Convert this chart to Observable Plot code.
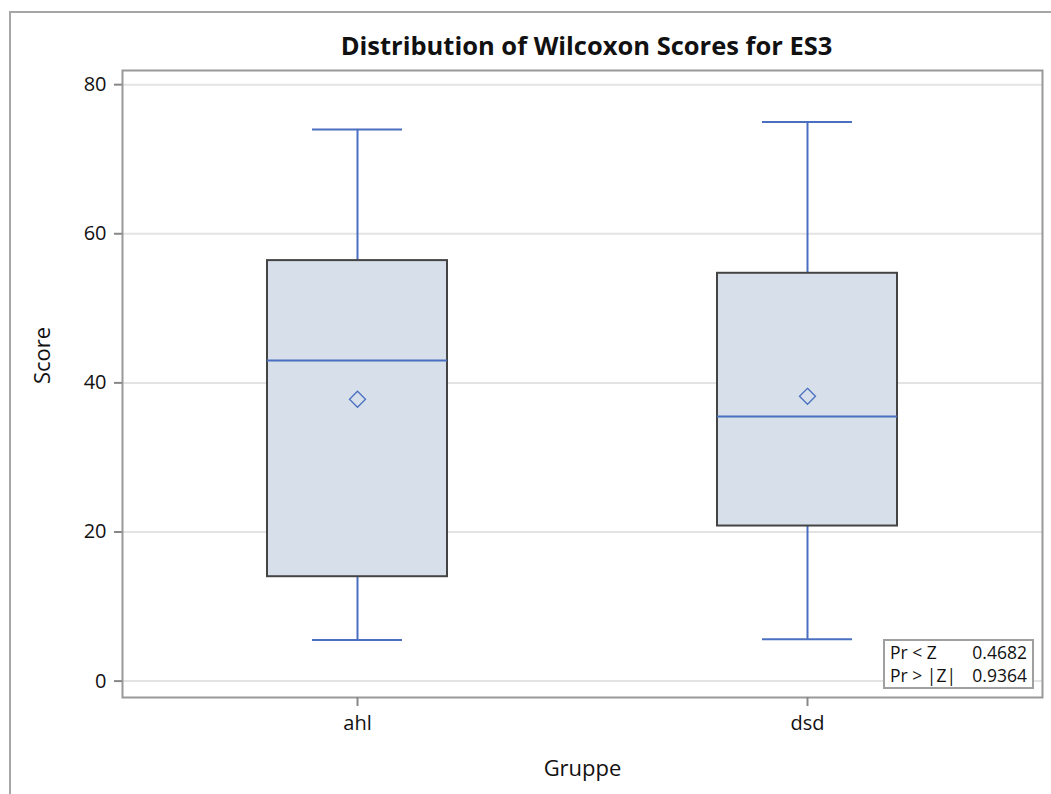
<!DOCTYPE html>
<html>
<head>
<meta charset="utf-8">
<script src="https://cdn.jsdelivr.net/npm/d3@7"></script>
<script src="https://cdn.jsdelivr.net/npm/@observablehq/plot@0.6"></script>
<style>
  html, body { margin: 0; padding: 0; background: #fff; overflow: hidden; }
  #wrap { position: relative; width: 1051px; height: 794px; overflow: hidden; font-family: "Open Sans", "Liberation Sans", Arial, sans-serif; }
  #outer { position: absolute; left: 9px; top: 11px; width: 1200px; height: 1000px; border: 2px solid #a6a6a6; box-sizing: border-box; }
  #chart { position: absolute; left: 0; top: 0; }
  #inset { position: absolute; left: 883px; top: 639px; width: 151px; height: 50px; border: 2px solid #a0a0a0; box-sizing: border-box; background: #fff; font-size: 17.5px; color: #111; display: grid; grid-template-columns: auto auto; padding: 0 5px 0 5px; line-height: 23px; }
  #inset .v { text-align: right; }
</style>
</head>
<body>
<div id="wrap">
  <div id="outer"></div>
  <div id="chart"></div>
  <div id="inset"></div>
</div>
<script>
const groups = ["ahl", "dsd"];
const whiskerLow = [5.5, 5.6];
const q1 = [14.0, 20.8];
const median = [43.0, 35.5];
const q3 = [56.4, 54.7];
const whiskerHigh = [74.0, 75.0];
const mean = [37.8, 38.2];
const yTicks = [0, 20, 40, 60, 80];
const statLabels = ["Pr < Z", "Pr > |Z|"];
const statValues = ["0.4682", "0.9364"];

const data = groups.map((g, i) => ({
  group: g, lo: whiskerLow[i], q1: q1[i], med: median[i], q3: q3[i], hi: whiskerHigh[i], mean: mean[i]
}));

const blue = "#4a6fc0";
const font = "Open Sans, Liberation Sans, Arial, sans-serif";

const plot = Plot.plot({
  width: 1051,
  height: 794,
  marginTop: 70,
  marginBottom: 97,
  marginLeft: 122,
  marginRight: 9,
  style: { fontFamily: font, fontSize: "20px", color: "#111", background: "transparent" },
  x: { type: "band", domain: groups, paddingInner: 0.6, paddingOuter: 0.322, axis: null },
  y: { domain: [-2.2, 81.9], axis: null },
  marks: [
    Plot.gridY(yTicks, { stroke: "#e3e3e3", strokeOpacity: 1, strokeWidth: 2 }),
    Plot.ruleX(data, { x: "group", y1: "lo", y2: "q1", stroke: blue, strokeWidth: 2 }),
    Plot.ruleX(data, { x: "group", y1: "q3", y2: "hi", stroke: blue, strokeWidth: 2 }),
    Plot.tickY(data, { x: "group", y: "lo", stroke: blue, strokeWidth: 2, insetLeft: 45, insetRight: 45 }),
    Plot.tickY(data, { x: "group", y: "hi", stroke: blue, strokeWidth: 2, insetLeft: 45, insetRight: 45 }),
    Plot.barY(data, { x: "group", y1: "q1", y2: "q3", fill: "#d7e0ea", stroke: "#444", strokeWidth: 2 }),
    Plot.tickY(data, { x: "group", y: "med", stroke: blue, strokeWidth: 2 }),
    Plot.dot(data, { x: "group", y: "mean", symbol: "diamond2", r: 7.2, stroke: blue, strokeWidth: 1.3, fill: "none" }),
    Plot.frame({ stroke: "#999", strokeWidth: 2 }),
    Plot.axisY(yTicks, { tickSize: 8, tickPadding: 8, stroke: "#888", strokeWidth: 2, fill: "#111", fontSize: 20, label: null }),
    Plot.axisX(groups, { tickSize: 9, tickPadding: 9, stroke: "#888", strokeWidth: 2, fill: "#111", fontSize: 20, label: null }),
    Plot.text(["Distribution of Wilcoxon Scores for ES3"], { frameAnchor: "top", lineAnchor: "middle", dy: -24, dx: 4, fontWeight: "bold", fontSize: 25.5, fill: "#111" }),
    Plot.text(["Gruppe"], { frameAnchor: "bottom", lineAnchor: "middle", dy: 71, fontSize: 22, fill: "#111" }),
    Plot.text(["Score"], { frameAnchor: "left", lineAnchor: "middle", dx: -80, rotate: -90, fontSize: 22, fill: "#111" })
  ]
});
document.getElementById("chart").appendChild(plot);

const inset = document.getElementById("inset");
statLabels.forEach((l, i) => {
  const a = document.createElement("div"); a.textContent = l; inset.appendChild(a);
  const b = document.createElement("div"); b.className = "v"; b.textContent = statValues[i]; inset.appendChild(b);
});
</script>
</body>
</html>
